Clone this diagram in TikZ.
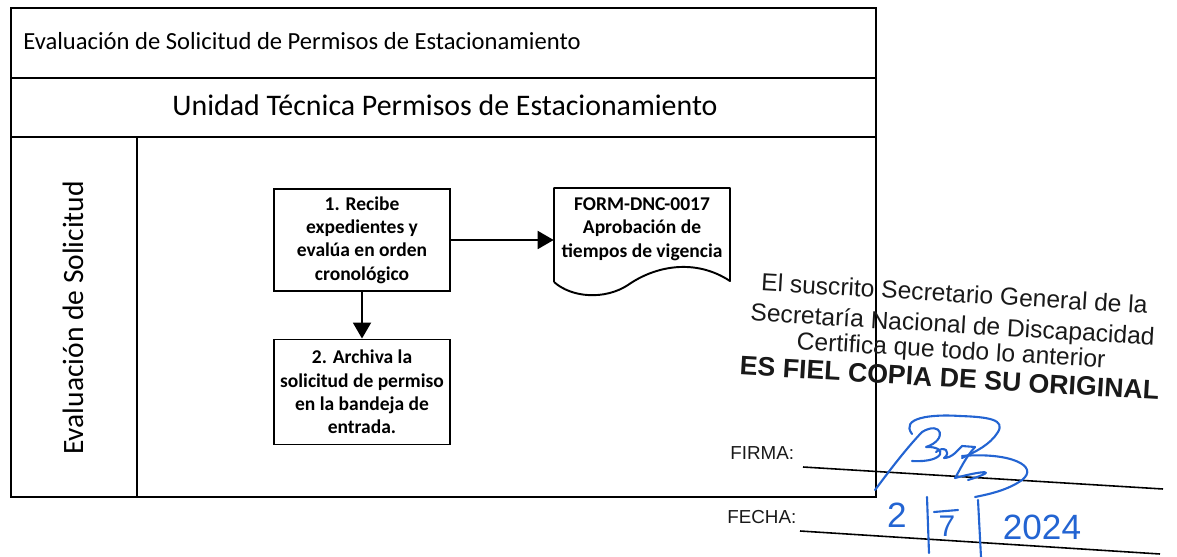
\documentclass[tikz,border=0pt]{standalone}
\usepackage{fontspec}
\setmainfont{Carlito}
\newfontfamily\stampfont{Liberation Sans}
\usetikzlibrary{positioning,arrows.meta,calc}
\definecolor{inkclr}{RGB}{35,100,210}
\definecolor{stampclr}{RGB}{25,25,25}
\tikzset{
  lane/.style={line width=1.1pt},
  stepbox/.style={rectangle,draw,line width=1.1pt,minimum width=3.52cm,
                  minimum height=2.04cm,align=center,inner sep=1pt,
                  font=\bfseries\fontsize{11.1}{13.3}\selectfont},
  formdoc/.style={rectangle,minimum width=3.52cm,align=center,inner sep=1pt,
                  font=\bfseries\fontsize{11.1}{13.3}\selectfont},
  flow/.style={-{Triangle[length=3.2mm,width=3.6mm]},line width=1.1pt},
  stamp/.style={rotate=-3.4,inner sep=0pt,text=stampclr,align=center,
                font=\stampfont\fontsize{14}{16}\selectfont},
  ink/.style={draw=inkclr,line width=1.2pt,line cap=round,line join=round},
  handnum/.style={anchor=base,inner sep=0pt,text=inkclr,
                  font=\stampfont\fontsize{20}{22}\selectfont},
}

\begin{document}
\begin{tikzpicture}[x=0.02cm,y=-0.02cm]
\useasboundingbox (0,0) rectangle (1177,557);

% Pool frame and lane
\draw[lane] (11,8) rectangle (876,497);
\draw[lane] (11,78) -- (876,78);
\draw[lane] (11,137) -- (876,137);
\draw[lane] (137,137) -- (137,497);

% Headers
\node[anchor=base west,inner sep=0pt,font=\fontsize{14}{16}\selectfont] (proc) at (23,50)
  {Evaluación de Solicitud de Permisos de Estacionamiento};
\node[anchor=base,inner sep=0pt,font=\fontsize{17}{19}\selectfont] (unit) at (445,116)
  {Unidad Técnica Permisos de Estacionamiento};
\node[anchor=base,rotate=90,inner sep=0pt,font=\fontsize{16.8}{19}\selectfont] (lanelbl) at (83,318)
  {Evaluación de Solicitud};

% Steps
\node[stepbox] (recibe) at (362,240) {1. Recibe\\expedientes y\\evalúa en orden\\cronológico};
\node[stepbox,minimum height=2.1cm] (archiva) at (362,392) {2. Archiva la\\solicitud de permiso\\en la bandeja de\\entrada.};

% Document
\node[formdoc] (form) at (642,229) {FORM-DNC-0017\\Aprobación de\\tiempos de vigencia};
\draw[lane,line join=round] (554,282) -- (554,188) -- (730,188) -- (730,281)
  .. controls (695,258) and (655,266) .. (628,285)
  .. controls (605,300) and (572,298) .. (554,282);

% Flow
\draw[flow] (recibe.east) -- (recibe.east -| form.west);
\draw[flow] (recibe.south) -- (archiva.north);

% Stamp
\node[stamp] (stamp) at (952,336)
  {El suscrito Secretario General de la\\[1.5pt]
   Secretaría Nacional de Discapacidad\\[-1.5pt]
   Certifica que todo lo anterior\\[0.5pt]
   {\bfseries\fontsize{15.2}{17}\selectfont ES FIEL COPIA DE SU ORIGINAL}};

% Firma / fecha
\node[anchor=base west,inner sep=0pt,text=stampclr,font=\stampfont\fontsize{10.7}{12}\selectfont] (firma) at (730,459) {FIRMA:};
\node[anchor=base west,inner sep=0pt,text=stampclr,font=\stampfont\fontsize{10.7}{12}\selectfont] (fecha) at (727,523) {FECHA:};
\draw[line width=0.9pt] (803,467) -- (1163,489);
\draw[line width=0.9pt] (800,531) -- (1160,554);

% Signature
\draw[ink] (875,490) .. controls (890,470) and (905,450) .. (922,432);
\draw[ink] (912,434) .. controls (900,418) and (930,414) .. (960,416)
  .. controls (990,417) and (1005,420) .. (998,432)
  .. controls (990,445) and (975,452) .. (962,458);
\draw[ink] (922,432) .. controls (942,420) and (948,440) .. (926,447)
  .. controls (948,446) and (946,463) .. (912,461);
\draw[ink] (936,452) .. controls (944,445) and (952,452) .. (944,458)
  .. controls (952,458) and (958,450) .. (962,446) -- (975,447)
  .. controls (965,458) and (960,470) .. (955,478)
  .. controls (985,470) and (1000,470) .. (968,480);
\draw[ink] (962,456) .. controls (1010,452) and (1040,466) .. (1022,480)
  .. controls (1008,490) and (990,494) .. (975,497);

% Date
\node[handnum] (day) at (897,527) {2};
\draw[ink] (927,497) -- (929,553);
\node[handnum,font=\stampfont\fontsize{17}{20}\selectfont] (month) at (947,536) {7};
\draw[ink] (934,512) -- (958,510);
\draw[ink] (978,500) -- (981,557);
\node[handnum] (year) at (1042,539) {2024};
\end{tikzpicture}
\end{document}
